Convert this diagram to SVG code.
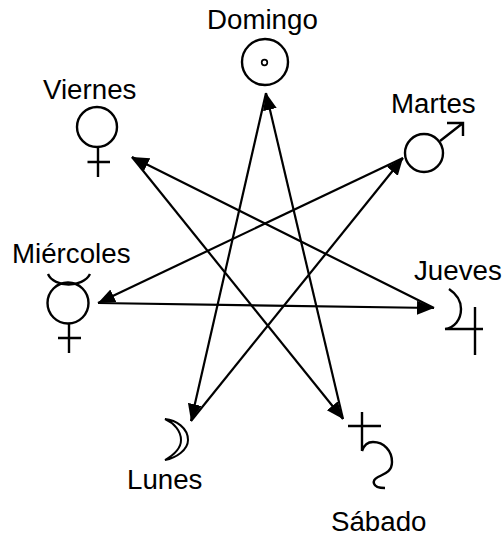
<svg xmlns="http://www.w3.org/2000/svg" width="503" height="537" viewBox="0 0 503 537">
<style>
text{font-family:"Liberation Sans",Arial,sans-serif;font-size:27.7px;fill:#000}
.s{fill:none;stroke:#000;stroke-width:2.4}
.c line{stroke:#000;stroke-width:2.2;marker-end:url(#a)}
</style>
<defs><marker id="a" markerUnits="userSpaceOnUse" markerWidth="20" markerHeight="16" refX="17" refY="7" orient="auto"><path d="M0,0L17,7L0,14z" fill="#000"/></marker></defs>
<rect width="503" height="537" fill="#fff"/>
<g id="connectors" class="c">
<line x1="266" y1="93" x2="191" y2="421"/>
<line x1="191" y1="421" x2="403" y2="158"/>
<line x1="403" y1="158" x2="98" y2="303"/>
<line x1="98" y1="303" x2="434" y2="308"/>
<line x1="434" y1="308" x2="132" y2="157"/>
<line x1="132" y1="157" x2="343" y2="419"/>
<line x1="343" y1="419" x2="266" y2="93"/>
</g>
<g id="domingo"><text x="207" y="29">Domingo</text><circle class="s" cx="265" cy="62" r="23"/><circle cx="264.500" cy="62.500" r="2.800" fill="none" stroke="#000" stroke-width="1.700"/></g>
<g id="viernes"><text x="43" y="99">Viernes</text><circle class="s" cx="97" cy="127" r="20"/><path class="s" d="M98,147V177M87.500,162H110"/></g>
<g id="martes"><text x="391" y="113">Martes</text><circle class="s" cx="424" cy="153" r="19"/><path class="s" d="M440,141L463,123M447,123H463V136"/></g>
<g id="miercoles"><text x="12" y="263">Miércoles</text><circle class="s" cx="68" cy="303" r="20.500"/><path class="s" d="M48,274C54,288 83,288 90,274M69,324V353M58,338H81"/></g>
<g id="jueves"><text x="414" y="280">Jueves</text><path class="s" d="M449,289C458,295 461,302 461,309C461,320 454,328 445,329M445,329H483M475,307V355"/></g>
<g id="lunes"><text x="127" y="489">Lunes</text><path d="M165,419C176,420 188,428 188,440C188,450 176,458 165,460C172,456 181,449 181,440C181,431 174,423 165,419Z" fill="none" stroke="#000" stroke-width="2"/></g>
<g id="sabado"><text x="331" y="531">Sábado</text><path class="s" d="M362,412V451M348,426H381M362,451C364,445 368,442 373,442C384,442 392,451 392,462C392,472 384,474 378,477C372,480 371,488 385,488"/></g>
</svg>
